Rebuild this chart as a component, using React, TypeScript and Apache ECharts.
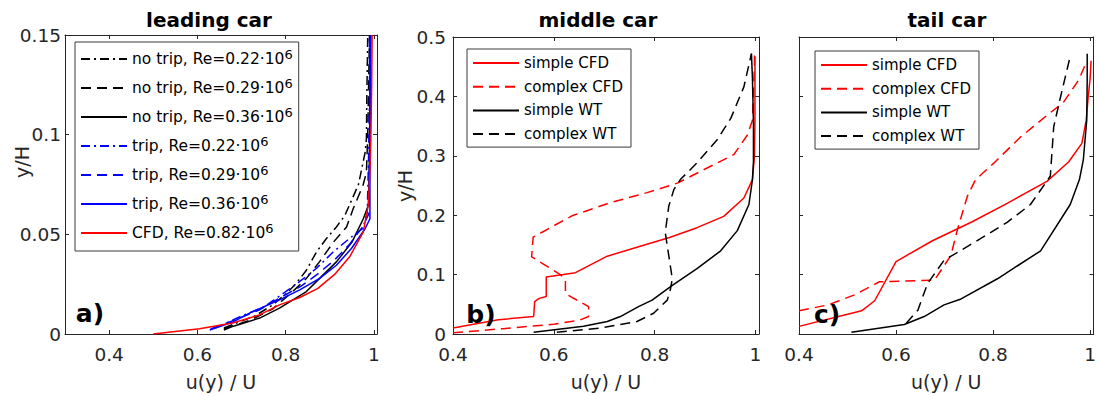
import React, { useEffect, useRef } from 'react';
import * as echarts from 'echarts';

type Pt = [number, number];

// ---- leading car: measured profiles, [u/U, y/H] ----
const leadNoTrip022: Pt[] = [
  [0.66, 0.003], [0.73, 0.009], [0.77, 0.0145], [0.802, 0.0204], [0.824, 0.0254],
  [0.847, 0.032], [0.87, 0.0412], [0.892, 0.0478], [0.915, 0.0537], [0.934, 0.0594],
  [0.965, 0.075], [0.98, 0.091], [0.983, 0.098], [0.984, 0.12], [0.986, 0.15],
];
const leadNoTrip029: Pt[] = [
  [0.66, 0.0025], [0.72, 0.007], [0.77, 0.0125], [0.816, 0.0213], [0.847, 0.0279],
  [0.877, 0.0363], [0.908, 0.046], [0.938, 0.0537], [0.953, 0.0628], [0.975, 0.0744],
  [0.983, 0.081], [0.986, 0.1], [0.988, 0.125], [0.99, 0.15],
];
const leadNoTrip036: Pt[] = [
  [0.66, 0.002], [0.68, 0.0038], [0.741, 0.008], [0.786, 0.013], [0.847, 0.0213],
  [0.877, 0.0279], [0.915, 0.0362], [0.95, 0.046], [0.976, 0.0578], [0.988, 0.065],
  [0.99, 0.09], [0.991, 0.12], [0.992, 0.15],
];
const leadTrip022: Pt[] = [
  [0.64, 0.003], [0.7, 0.009], [0.75, 0.0135], [0.79, 0.0196], [0.83, 0.026],
  [0.87, 0.033], [0.907, 0.041], [0.945, 0.048], [0.975, 0.053], [0.985, 0.061],
  [0.988, 0.09], [0.99, 0.12], [0.99, 0.15],
];
const leadTrip029: Pt[] = [
  [0.63, 0.0025], [0.69, 0.0075], [0.74, 0.012], [0.79, 0.0185], [0.835, 0.024],
  [0.875, 0.0305], [0.91, 0.037], [0.945, 0.045], [0.975, 0.054], [0.988, 0.06],
  [0.99, 0.09], [0.991, 0.12], [0.992, 0.15],
];
const leadTrip036: Pt[] = [
  [0.628, 0.002], [0.68, 0.006], [0.718, 0.0105], [0.786, 0.0171], [0.832, 0.0221],
  [0.877, 0.0279], [0.915, 0.0345], [0.949, 0.0429], [0.98, 0.0528], [0.991, 0.0578],
  [0.991, 0.08], [0.992, 0.11], [0.993, 0.15],
];
const leadCfd082: Pt[] = [
  [0.5, 0], [0.605, 0.0026], [0.68, 0.0055], [0.741, 0.0096], [0.786, 0.0146],
  [0.832, 0.0183], [0.873, 0.0229], [0.911, 0.0299], [0.945, 0.0387], [0.976, 0.0512],
  [0.987, 0.0644], [0.991, 0.081], [0.993, 0.098], [0.995, 0.125], [0.996, 0.15],
];

// ---- middle car ----
const midSimpleCfd: Pt[] = [
  [0.4, 0.01], [0.49, 0.024], [0.56, 0.0294], [0.562, 0.0545], [0.571, 0.06],
  [0.585, 0.063], [0.585, 0.096], [0.619, 0.1], [0.643, 0.1033], [0.706, 0.131],
  [0.765, 0.146], [0.831, 0.163], [0.884, 0.179], [0.937, 0.198], [0.977, 0.229],
  [0.994, 0.26], [0.998, 0.3], [0.999, 0.36], [0.999, 0.467],
];
const midComplexCfd: Pt[] = [
  [0.4, 0.002], [0.5, 0.009], [0.6, 0.0165], [0.65, 0.023], [0.669, 0.0294],
  [0.669, 0.046], [0.623, 0.068], [0.623, 0.09], [0.613, 0.1], [0.556, 0.13],
  [0.559, 0.163], [0.636, 0.199], [0.712, 0.221], [0.785, 0.238], [0.845, 0.254],
  [0.917, 0.285], [0.957, 0.302], [0.984, 0.335], [0.994, 0.36], [0.998, 0.455],
  [0.998, 0.47],
];
const midSimpleWt: Pt[] = [
  [0.56, 0.003], [0.659, 0.013], [0.706, 0.021], [0.732, 0.0294], [0.768, 0.046],
  [0.795, 0.057], [0.835, 0.082], [0.884, 0.11], [0.931, 0.14], [0.964, 0.174],
  [0.987, 0.218], [0.994, 0.26], [0.996, 0.29], [0.996, 0.354], [0.994, 0.43],
  [0.992, 0.472],
];
const midComplexWt: Pt[] = [
  [0.606, 0.003], [0.692, 0.01], [0.765, 0.021], [0.798, 0.035], [0.825, 0.057],
  [0.831, 0.074], [0.835, 0.093], [0.828, 0.132], [0.821, 0.171], [0.828, 0.215],
  [0.838, 0.243], [0.851, 0.26], [0.884, 0.288], [0.924, 0.327], [0.951, 0.363],
  [0.977, 0.416], [0.992, 0.472],
];

// ---- tail car ----
const tailSimpleCfd: Pt[] = [
  [0.4, 0.0128], [0.494, 0.032], [0.529, 0.039], [0.556, 0.056], [0.6, 0.122],
  [0.675, 0.157], [0.757, 0.189], [0.829, 0.22], [0.911, 0.257], [0.956, 0.29],
  [0.983, 0.321], [0.992, 0.36], [0.996, 0.399], [1.0, 0.43], [1.002, 0.46],
];
const tailComplexCfd: Pt[] = [
  [0.4, 0.039], [0.46, 0.049], [0.515, 0.066], [0.566, 0.088], [0.679, 0.0905],
  [0.713, 0.132], [0.727, 0.177], [0.747, 0.232], [0.764, 0.26], [0.802, 0.288],
  [0.857, 0.332], [0.911, 0.368], [0.945, 0.39], [0.976, 0.427], [0.992, 0.457],
];
const tailSimpleWt: Pt[] = [
  [0.508, 0.003], [0.617, 0.016], [0.658, 0.0294], [0.699, 0.049], [0.734, 0.059],
  [0.809, 0.093], [0.898, 0.14], [0.959, 0.218], [0.978, 0.26], [0.986, 0.293],
  [0.993, 0.36], [0.994, 0.427], [0.994, 0.472],
];
const tailComplexWt: Pt[] = [
  [0.621, 0.018], [0.645, 0.04], [0.665, 0.085], [0.699, 0.124], [0.761, 0.154],
  [0.829, 0.188], [0.877, 0.218], [0.908, 0.254], [0.918, 0.266], [0.925, 0.349],
  [0.939, 0.399], [0.96, 0.471],
];

// ---- tick positions ----
const xTicks = [0.4, 0.6, 0.8, 1];
const yTicksLead = [0, 0.05, 0.1, 0.15];
const yTicksCar = [0, 0.1, 0.2, 0.3, 0.4, 0.5];

const FONT = "'DejaVu Sans', 'Liberation Sans', sans-serif";
const AXIS = '#262626';
const RED = '#ff0000';
const BLUE = '#0000ff';
const BLACK = '#000000';
const SOLID = 'solid';
const DASH = [10, 6];
const DASHDOT = [9, 4, 2, 4];

function xAxes(gridIndex: number, min: number, max: number) {
  const base = {
    type: 'value',
    gridIndex,
    min,
    max,
    splitLine: { show: false },
    axisLine: { show: true, onZero: false, lineStyle: { color: AXIS, width: 1 } },
    axisTick: { show: true, inside: true, length: 4, customValues: xTicks, lineStyle: { color: AXIS } },
  };
  return [
    {
      ...base,
      position: 'bottom',
      name: 'u(y) / U',
      nameLocation: 'middle',
      nameGap: 38,
      nameTextStyle: { fontSize: 19, color: AXIS, fontFamily: FONT },
      axisLabel: { show: true, customValues: xTicks, margin: 11, fontSize: 18.5, color: AXIS, fontFamily: FONT },
    },
    { ...base, position: 'top', axisLabel: { show: false } },
  ];
}

function yAxes(gridIndex: number, max: number, ticks: number[], showLabels: boolean, margin: number) {
  const base = {
    type: 'value',
    gridIndex,
    min: 0,
    max,
    splitLine: { show: false },
    axisLine: { show: true, onZero: false, lineStyle: { color: AXIS, width: 1 } },
    axisTick: { show: true, inside: true, length: 4, customValues: ticks, lineStyle: { color: AXIS } },
  };
  return [
    {
      ...base,
      position: 'left',
      axisLabel: { show: showLabels, customValues: ticks, margin, fontSize: 18.5, color: AXIS, fontFamily: FONT },
    },
    { ...base, position: 'right', axisLabel: { show: false } },
  ];
}

function line(name: string, data: Pt[], color: string, type: any, axis: number) {
  return {
    type: 'line',
    name,
    data,
    xAxisIndex: axis,
    yAxisIndex: axis,
    symbol: 'none',
    showSymbol: false,
    silent: true,
    clip: true,
    lineStyle: { color, width: 1.5, type },
    itemStyle: { color },
  };
}

const leadNames = [
  'no trip, Re=0.22·10^6',
  'no trip, Re=0.29·10^6',
  'no trip, Re=0.36·10^6',
  'trip, Re=0.22·10^6',
  'trip, Re=0.29·10^6',
  'trip, Re=0.36·10^6',
  'CFD, Re=0.82·10^6',
];
const carNames = ['simple CFD', 'complex CFD', 'simple WT', 'complex WT'];

function legendBox(left: number, top: number, data: string[], gap: number, padding: number[], rich: boolean) {
  return {
    show: true,
    orient: 'vertical',
    left,
    top,
    data,
    itemWidth: 46,
    itemHeight: 14,
    itemGap: gap,
    padding,
    backgroundColor: '#ffffff',
    borderColor: '#3a3a3a',
    borderWidth: 1,
    borderRadius: 0,
    selectedMode: false,
    itemStyle: { opacity: 0 },
    formatter: rich
      ? (name: string) => {
          const [base, sup] = name.split('^');
          return `{b|${base}}{s|${sup}}`;
        }
      : undefined,
    textStyle: {
      fontSize: rich ? 15.5 : 15,
      color: BLACK,
      fontFamily: FONT,
      lineHeight: rich ? 26 : 20,
      rich: rich
        ? {
            b: { fontSize: 15.5, lineHeight: 26, fontFamily: FONT, color: BLACK },
            s: { fontSize: 13, verticalAlign: 'top', padding: [2, 0, 0, 0], fontFamily: FONT, color: BLACK },
          }
        : undefined,
    },
  };
}

function text(x: number, y: number, str: string, size: number, bold: boolean, rotation = 0) {
  return {
    type: 'text',
    x,
    y,
    rotation,
    z: 100,
    style: {
      text: str,
      fill: bold ? BLACK : AXIS,
      fontSize: size,
      fontWeight: bold ? 'bold' : 'normal',
      fontFamily: FONT,
      align: 'center',
      verticalAlign: 'middle',
      textAlign: 'center',
      textVerticalAlign: 'middle',
    },
  };
}

function buildOption() {
  return {
    animation: false,
    backgroundColor: '#ffffff',
    grid: [
      { left: 65, top: 35, width: 312, height: 301 },
      { left: 453, top: 37, width: 306, height: 299 },
      { left: 799, top: 37, width: 296, height: 299 },
    ],
    xAxis: [...xAxes(0, 0.3, 1.007), ...xAxes(1, 0.4, 1.007), ...xAxes(2, 0.4, 1.007)],
    yAxis: [
      ...yAxes(0, 0.15, yTicksLead, true, 4),
      ...yAxes(1, 0.5, yTicksCar, true, 7),
      ...yAxes(2, 0.5, yTicksCar, false, 7),
    ],
    legend: [
      legendBox(75, 42, leadNames, 3, [4, 6, 5, 5], true),
      legendBox(467, 49, carNames, 3.7, [4, 8, 3, 5], false),
      legendBox(815, 51, carNames, 3.7, [4, 8, 3, 5], false),
    ],
    series: [
      line(leadNames[0], leadNoTrip022, BLACK, DASHDOT, 0),
      line(leadNames[1], leadNoTrip029, BLACK, DASH, 0),
      line(leadNames[2], leadNoTrip036, BLACK, SOLID, 0),
      line(leadNames[3], leadTrip022, BLUE, DASHDOT, 0),
      line(leadNames[4], leadTrip029, BLUE, DASH, 0),
      line(leadNames[5], leadTrip036, BLUE, SOLID, 0),
      line(leadNames[6], leadCfd082, RED, SOLID, 0),

      line(carNames[0], midSimpleCfd, RED, SOLID, 2),
      line(carNames[1], midComplexCfd, RED, DASH, 2),
      line(carNames[2], midSimpleWt, BLACK, SOLID, 2),
      line(carNames[3], midComplexWt, BLACK, DASH, 2),

      line(carNames[0], tailSimpleCfd, RED, SOLID, 4),
      line(carNames[1], tailComplexCfd, RED, DASH, 4),
      line(carNames[2], tailSimpleWt, BLACK, SOLID, 4),
      line(carNames[3], tailComplexWt, BLACK, DASH, 4),
    ],
    graphic: [
      text(209, 20, 'leading car', 20, true),
      text(598, 20, 'middle car', 20, true),
      text(947, 20, 'tail car', 20, true),
      text(22, 162, 'y/H', 19, false, Math.PI / 2),
      text(405, 186, 'y/H', 19, false, Math.PI / 2),
      text(90, 313, 'a)', 25, true),
      text(481, 314, 'b)', 25, true),
      text(827, 314, 'c)', 25, true),
    ],
  };
}

export default function App() {
  const ref = useRef<HTMLDivElement>(null);
  useEffect(() => {
    if (!ref.current) return;
    const chart = echarts.init(ref.current, undefined, { renderer: 'svg' });
    chart.setOption(buildOption() as any);
    return () => chart.dispose();
  }, []);
  return <div ref={ref} style={{ position: 'absolute', left: 0, top: 0, width: 1099, height: 396 }} />;
}
